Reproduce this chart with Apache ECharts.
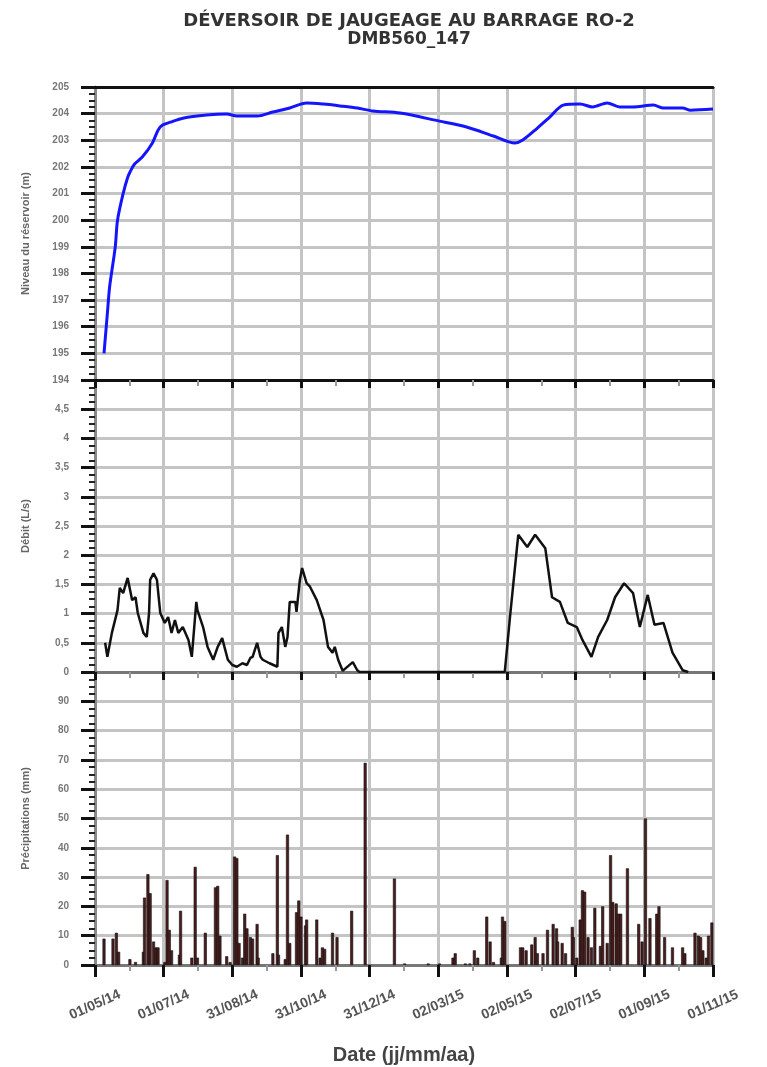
<!DOCTYPE html>
<html>
<head>
<meta charset="utf-8">
<script src="https://cdn.jsdelivr.net/npm/echarts@6/dist/echarts.min.js"></script>
<style>
  html, body { margin: 0; padding: 0; background: #fff; }
  #chart { width: 767px; height: 1067px; }
</style>
</head>
<body>
<div id="chart"></div>
<script>
// jours depuis le 01/05/14
const startDate = Date.UTC(2014, 4, 1);
const tickDays = 61;
const lastDay = 549;

// niveau du réservoir (m)
const levelDay = [8, 11, 13, 18, 20, 25, 29, 31, 35, 42, 51, 56, 60, 67, 78, 99, 117, 126, 144, 158, 173, 188, 203, 218, 233, 247, 271, 306, 330, 354, 373, 380, 393, 404, 416, 431, 442, 455, 466, 478, 496, 505, 522, 529, 549];
const levelValue = [195.0, 196.5, 197.5, 199.0, 200.0, 201.0, 201.6, 201.8, 202.1, 202.37, 202.9, 203.38, 203.57, 203.68, 203.83, 203.95, 203.99, 203.91, 203.91, 204.06, 204.21, 204.4, 204.36, 204.29, 204.21, 204.1, 204.02, 203.72, 203.5, 203.16, 202.9, 203.01, 203.46, 203.87, 204.32, 204.36, 204.25, 204.4, 204.25, 204.25, 204.32, 204.21, 204.21, 204.13, 204.17];

// débit (L/s)
const flowDay = [9, 11, 15, 20, 22, 25, 29, 33, 36, 38, 43, 46, 48, 49, 52, 55, 58, 62, 65, 68, 71, 74, 78, 83, 86, 90, 91, 96, 100, 105, 109, 113, 115, 118, 122, 126, 131, 135, 138, 140, 144, 147, 149, 155, 162, 163, 166, 169, 171, 173, 178, 179, 182, 184, 188, 191, 197, 203, 207, 211, 213, 216, 220, 229, 233, 235, 364, 369, 376, 384, 391, 400, 406, 413, 420, 428, 433, 441, 447, 455, 462, 470, 478, 484, 491, 497, 505, 513, 522, 527];
const flowValue = [0.5, 0.26, 0.67, 1.06, 1.44, 1.35, 1.61, 1.23, 1.28, 1.01, 0.67, 0.6, 1.01, 1.58, 1.69, 1.58, 1.01, 0.84, 0.94, 0.67, 0.89, 0.67, 0.77, 0.55, 0.26, 1.2, 1.06, 0.77, 0.43, 0.21, 0.43, 0.58, 0.43, 0.21, 0.12, 0.09, 0.15, 0.12, 0.24, 0.26, 0.5, 0.26, 0.21, 0.15, 0.09, 0.67, 0.77, 0.43, 0.6, 1.2, 1.2, 1.03, 1.58, 1.78, 1.52, 1.46, 1.23, 0.89, 0.43, 0.33, 0.43, 0.21, 0.02, 0.17, 0.03, 0, 0, 1.01, 2.35, 2.14, 2.35, 2.12, 1.28, 1.2, 0.84, 0.77, 0.55, 0.26, 0.6, 0.89, 1.28, 1.52, 1.35, 0.77, 1.32, 0.81, 0.84, 0.33, 0.03, 0];

// précipitations (mm)
const precipDay = [8, 16, 19, 21, 31, 36, 43, 44, 47, 49, 52, 54, 56, 62, 64, 66, 68, 75, 76, 86, 89, 91, 98, 107, 109, 111, 117, 120, 124, 126, 128, 131, 133, 135, 138, 140, 144, 145, 158, 162, 163, 169, 171, 173, 179, 181, 183, 187, 188, 197, 200, 202, 204, 211, 215, 228, 240, 266, 275, 296, 306, 318, 320, 329, 333, 337, 340, 348, 351, 354, 361, 362, 364, 378, 380, 383, 388, 391, 393, 398, 402, 407, 410, 411, 415, 418, 424, 425, 428, 431, 433, 435, 438, 441, 444, 449, 451, 455, 458, 460, 463, 465, 467, 473, 483, 486, 489, 493, 499, 501, 506, 513, 522, 524, 533, 536, 538, 540, 543, 545, 548];
const precipValue = [9, 9, 11, 4.5, 2, 1, 4.5, 23, 31, 24.5, 8, 6, 6, 1, 29, 12, 5, 3.5, 18.5, 2.5, 33.5, 2.5, 11, 26.5, 27, 10, 3, 1, 37, 36.5, 7.5, 2.5, 17.5, 12.5, 9.5, 9, 14, 2.5, 4, 37.5, 3.5, 2, 44.5, 7.5, 18, 22, 16.5, 13.5, 15.5, 15.5, 2.5, 6, 5.5, 11, 9.5, 18.5, 69, 29.5, 0.5, 0.5, 0.5, 2.5, 4, 0.5, 0.5, 5, 2.5, 16.5, 8, 1, 2.5, 16.5, 15, 6, 6, 5, 7, 9.5, 4, 4, 12, 14, 12.5, 8, 7.5, 4, 13, 9.5, 2.5, 15.5, 25.5, 25, 9.5, 6, 19.5, 6.5, 20, 7.5, 37.5, 21.5, 21, 17.5, 17.5, 33, 14, 8, 50, 16, 17.5, 20, 9.5, 6, 6, 4, 11, 10, 9.5, 5, 2.5, 10, 14.5];

function pairs(xs, ys) { return xs.map((x, i) => [x, ys[i]]); }
function dayLabel(d) {
    const t = new Date(startDate + d * 86400000);
    const p = n => String(n).padStart(2, '0');
    return p(t.getUTCDate()) + '/' + p(t.getUTCMonth() + 1) + '/' + p(t.getUTCFullYear() % 100);
}

const chart = echarts.init(document.getElementById('chart'));
const gridColor = '#c4c4c4';
const arial = 'Arial, Liberation Sans, sans-serif';
const labelStyle = { color: '#777', fontWeight: 'bold', fontSize: 10, fontFamily: arial };
const nameStyle = { color: '#666', fontWeight: 'bold', fontSize: 11, fontFamily: arial };

function xAxisFor(gridIndex, showLabels) {
    return {
        type: 'value', gridIndex: gridIndex, min: 0, max: lastDay, interval: tickDays,
        position: 'bottom',
        axisLine: { show: true, onZero: false, lineStyle: { color: gridIndex === 0 ? '#111' : '#777', width: 3 } },
        axisTick: { show: true, length: showLabels ? 12 : 8, lineStyle: { color: '#111', width: 3 } },
        minorTick: { show: true, splitNumber: 2, length: 6, lineStyle: { color: '#999', width: 2 } },
        splitLine: { show: true, lineStyle: { color: gridColor, width: 3 } },
        axisLabel: showLabels ? {
            show: true, rotate: 24, align: 'center', verticalAlign: 'middle', margin: 40,
            color: '#555', fontWeight: 'bold', fontSize: 14, fontFamily: arial,
            formatter: v => dayLabel(v)
        } : { show: false },
        name: showLabels ? 'Date (jj/mm/aa)' : '',
        nameLocation: 'middle', nameGap: 80,
        nameTextStyle: { color: '#444', fontWeight: 'bold', fontSize: 20, fontFamily: arial }
    };
}

function yAxisFor(gridIndex, min, max, interval, name, fmt, showMax) {
    return {
        type: 'value', gridIndex: gridIndex, min: min, max: max, interval: interval,
        axisLine: { show: true, lineStyle: { color: '#888', width: 3 } },
        axisTick: { show: true, length: 14, lineStyle: { color: '#111', width: 3 } },
        minorTick: { show: true, splitNumber: 4, length: 6, lineStyle: { color: '#222', width: 2 } },
        splitLine: { show: true, lineStyle: { color: gridColor, width: 3 } },
        axisLabel: Object.assign({ margin: 26, showMaxLabel: showMax, formatter: fmt }, labelStyle),
        name: name, nameLocation: 'middle', nameGap: 64, nameTextStyle: nameStyle
    };
}

const option = {
    backgroundColor: '#fff',
    animation: false,
    title: {
        text: 'DÉVERSOIR DE JAUGEAGE AU BARRAGE RO-2',
        subtext: 'DMB560_147',
        left: 404, top: 7, textAlign: 'center', itemGap: 1,
        textStyle: { color: '#333', fontWeight: 'bold', fontSize: 18, fontFamily: 'DejaVu Sans' },
        subtextStyle: { color: '#333', fontWeight: 'bold', fontSize: 17, fontFamily: 'DejaVu Sans' }
    },
    grid: [
        { left: 95, right: 54, top: 87, height: 293 },
        { left: 95, right: 54, top: 380, height: 292 },
        { left: 95, right: 54, top: 672, height: 293 }
    ],
    xAxis: [
        xAxisFor(0, false),
        xAxisFor(1, false),
        xAxisFor(2, true),
        {
            type: 'value', gridIndex: 0, min: 0, max: lastDay, interval: tickDays, position: 'top',
            axisLine: { show: true, lineStyle: { color: '#111', width: 3 } },
            axisTick: { show: false }, axisLabel: { show: false }, splitLine: { show: false }
        }
    ],
    yAxis: [
        yAxisFor(0, 194, 205, 1, 'Niveau du réservoir (m)', v => String(v), true),
        yAxisFor(1, 0, 5, 0.5, 'Débit (L/s)', v => String(v).replace('.', ','), false),
        yAxisFor(2, 0, 100, 10, 'Précipitations (mm)', v => String(v), false)
    ],
    series: [
        {
            name: 'Niveau', type: 'line', xAxisIndex: 0, yAxisIndex: 0,
            data: pairs(levelDay, levelValue), showSymbol: false, smooth: 0.3,
            lineStyle: { color: '#1414ff', width: 3 }
        },
        {
            name: 'Débit', type: 'line', xAxisIndex: 1, yAxisIndex: 1,
            data: pairs(flowDay, flowValue), showSymbol: false,
            lineStyle: { color: '#111', width: 2.5 }
        },
        {
            name: 'Précipitations', type: 'bar', xAxisIndex: 2, yAxisIndex: 2,
            data: pairs(precipDay, precipValue), barWidth: 3,
            itemStyle: { color: '#4a1c1c', borderColor: '#111', borderWidth: 0.6 }
        }
    ]
};

chart.setOption(option);
</script>
</body>
</html>
